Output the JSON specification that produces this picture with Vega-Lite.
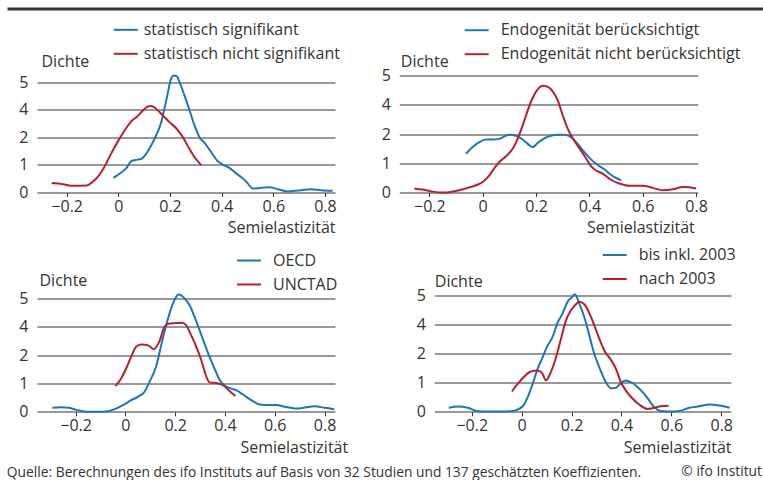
{
  "$schema": "https://vega.github.io/schema/vega-lite/v6.json",
  "autosize": {"type": "pad"},
  "padding": {"left": 6, "top": 8.5, "right": 0, "bottom": 0},
  "bounds": "flush",
  "spacing": 59,
  "title": {"text": "Quelle: Berechnungen des ifo Instituts auf Basis von 32 Studien und 137 geschätzten Koeffizienten.", "orient": "bottom", "anchor": "start", "frame": "bounds", "offset": -13, "dx": -12},
  "datasets": {
    "p1": [
      {"gruppe": "statistisch signifikant", "x": -0.019, "dichte": 0.53},
      {"gruppe": "statistisch signifikant", "x": 0.011, "dichte": 0.72},
      {"gruppe": "statistisch signifikant", "x": 0.030, "dichte": 0.87},
      {"gruppe": "statistisch signifikant", "x": 0.050, "dichte": 1.13},
      {"gruppe": "statistisch signifikant", "x": 0.075, "dichte": 1.19},
      {"gruppe": "statistisch signifikant", "x": 0.091, "dichte": 1.23},
      {"gruppe": "statistisch signifikant", "x": 0.108, "dichte": 1.41},
      {"gruppe": "statistisch signifikant", "x": 0.127, "dichte": 1.71},
      {"gruppe": "statistisch signifikant", "x": 0.146, "dichte": 2.14},
      {"gruppe": "statistisch signifikant", "x": 0.166, "dichte": 3.10},
      {"gruppe": "statistisch signifikant", "x": 0.179, "dichte": 4.07},
      {"gruppe": "statistisch signifikant", "x": 0.191, "dichte": 4.58},
      {"gruppe": "statistisch signifikant", "x": 0.204, "dichte": 5.12},
      {"gruppe": "statistisch signifikant", "x": 0.215, "dichte": 5.24},
      {"gruppe": "statistisch signifikant", "x": 0.226, "dichte": 5.22},
      {"gruppe": "statistisch signifikant", "x": 0.237, "dichte": 5.00},
      {"gruppe": "statistisch signifikant", "x": 0.256, "dichte": 4.52},
      {"gruppe": "statistisch signifikant", "x": 0.276, "dichte": 3.95},
      {"gruppe": "statistisch signifikant", "x": 0.295, "dichte": 2.87},
      {"gruppe": "statistisch signifikant", "x": 0.314, "dichte": 2.02},
      {"gruppe": "statistisch signifikant", "x": 0.333, "dichte": 1.81},
      {"gruppe": "statistisch signifikant", "x": 0.359, "dichte": 1.47},
      {"gruppe": "statistisch signifikant", "x": 0.385, "dichte": 1.13},
      {"gruppe": "statistisch signifikant", "x": 0.404, "dichte": 1.01},
      {"gruppe": "statistisch signifikant", "x": 0.430, "dichte": 0.89},
      {"gruppe": "statistisch signifikant", "x": 0.456, "dichte": 0.69},
      {"gruppe": "statistisch signifikant", "x": 0.482, "dichte": 0.51},
      {"gruppe": "statistisch signifikant", "x": 0.501, "dichte": 0.33},
      {"gruppe": "statistisch signifikant", "x": 0.521, "dichte": 0.14},
      {"gruppe": "statistisch signifikant", "x": 0.553, "dichte": 0.17},
      {"gruppe": "statistisch signifikant", "x": 0.585, "dichte": 0.19},
      {"gruppe": "statistisch signifikant", "x": 0.617, "dichte": 0.12},
      {"gruppe": "statistisch signifikant", "x": 0.656, "dichte": 0.04},
      {"gruppe": "statistisch signifikant", "x": 0.695, "dichte": 0.07},
      {"gruppe": "statistisch signifikant", "x": 0.746, "dichte": 0.12},
      {"gruppe": "statistisch signifikant", "x": 0.785, "dichte": 0.08},
      {"gruppe": "statistisch signifikant", "x": 0.830, "dichte": 0.06},
      {"gruppe": "statistisch nicht signifikant", "x": -0.258, "dichte": 0.34},
      {"gruppe": "statistisch nicht signifikant", "x": -0.215, "dichte": 0.30},
      {"gruppe": "statistisch nicht signifikant", "x": -0.176, "dichte": 0.24},
      {"gruppe": "statistisch nicht signifikant", "x": -0.124, "dichte": 0.25},
      {"gruppe": "statistisch nicht signifikant", "x": -0.099, "dichte": 0.39},
      {"gruppe": "statistisch nicht signifikant", "x": -0.079, "dichte": 0.57},
      {"gruppe": "statistisch nicht signifikant", "x": -0.056, "dichte": 0.89},
      {"gruppe": "statistisch nicht signifikant", "x": -0.028, "dichte": 1.41},
      {"gruppe": "statistisch nicht signifikant", "x": 0.004, "dichte": 1.95},
      {"gruppe": "statistisch nicht signifikant", "x": 0.030, "dichte": 2.67},
      {"gruppe": "statistisch nicht signifikant", "x": 0.050, "dichte": 3.16},
      {"gruppe": "statistisch nicht signifikant", "x": 0.073, "dichte": 3.52},
      {"gruppe": "statistisch nicht signifikant", "x": 0.095, "dichte": 3.95},
      {"gruppe": "statistisch nicht signifikant", "x": 0.114, "dichte": 4.12},
      {"gruppe": "statistisch nicht signifikant", "x": 0.127, "dichte": 4.14},
      {"gruppe": "statistisch nicht signifikant", "x": 0.146, "dichte": 4.04},
      {"gruppe": "statistisch nicht signifikant", "x": 0.172, "dichte": 3.59},
      {"gruppe": "statistisch nicht signifikant", "x": 0.198, "dichte": 3.11},
      {"gruppe": "statistisch nicht signifikant", "x": 0.224, "dichte": 2.67},
      {"gruppe": "statistisch nicht signifikant", "x": 0.250, "dichte": 2.02},
      {"gruppe": "statistisch nicht signifikant", "x": 0.275, "dichte": 1.59},
      {"gruppe": "statistisch nicht signifikant", "x": 0.299, "dichte": 1.23},
      {"gruppe": "statistisch nicht signifikant", "x": 0.321, "dichte": 0.99}
    ],
    "p2": [
      {"gruppe": "Endogenität berücksichtigt", "x": -0.0625, "dichte": 1.33},
      {"gruppe": "Endogenität berücksichtigt", "x": -0.0375, "dichte": 1.56},
      {"gruppe": "Endogenität berücksichtigt", "x": -0.0125, "dichte": 1.73},
      {"gruppe": "Endogenität berücksichtigt", "x": 0.0125, "dichte": 1.82},
      {"gruppe": "Endogenität berücksichtigt", "x": 0.0375, "dichte": 1.82},
      {"gruppe": "Endogenität berücksichtigt", "x": 0.0625, "dichte": 1.84},
      {"gruppe": "Endogenität berücksichtigt", "x": 0.081, "dichte": 1.92},
      {"gruppe": "Endogenität berücksichtigt", "x": 0.100, "dichte": 1.98},
      {"gruppe": "Endogenität berücksichtigt", "x": 0.125, "dichte": 1.95},
      {"gruppe": "Endogenität berücksichtigt", "x": 0.150, "dichte": 1.82},
      {"gruppe": "Endogenität berücksichtigt", "x": 0.169, "dichte": 1.67},
      {"gruppe": "Endogenität berücksichtigt", "x": 0.1875, "dichte": 1.56},
      {"gruppe": "Endogenität berücksichtigt", "x": 0.206, "dichte": 1.70},
      {"gruppe": "Endogenität berücksichtigt", "x": 0.231, "dichte": 1.86},
      {"gruppe": "Endogenität berücksichtigt", "x": 0.256, "dichte": 1.95},
      {"gruppe": "Endogenität berücksichtigt", "x": 0.281, "dichte": 1.98},
      {"gruppe": "Endogenität berücksichtigt", "x": 0.306, "dichte": 1.98},
      {"gruppe": "Endogenität berücksichtigt", "x": 0.331, "dichte": 1.90},
      {"gruppe": "Endogenität berücksichtigt", "x": 0.356, "dichte": 1.67},
      {"gruppe": "Endogenität berücksichtigt", "x": 0.381, "dichte": 1.39},
      {"gruppe": "Endogenität berücksichtigt", "x": 0.406, "dichte": 1.14},
      {"gruppe": "Endogenität berücksichtigt", "x": 0.431, "dichte": 0.95},
      {"gruppe": "Endogenität berücksichtigt", "x": 0.456, "dichte": 0.80},
      {"gruppe": "Endogenität berücksichtigt", "x": 0.481, "dichte": 0.61},
      {"gruppe": "Endogenität berücksichtigt", "x": 0.500, "dichte": 0.50},
      {"gruppe": "Endogenität berücksichtigt", "x": 0.519, "dichte": 0.42},
      {"gruppe": "Endogenität nicht berücksichtigt", "x": -0.256, "dichte": 0.14},
      {"gruppe": "Endogenität nicht berücksichtigt", "x": -0.225, "dichte": 0.10},
      {"gruppe": "Endogenität nicht berücksichtigt", "x": -0.1875, "dichte": 0.03},
      {"gruppe": "Endogenität nicht berücksichtigt", "x": -0.150, "dichte": 0.00},
      {"gruppe": "Endogenität nicht berücksichtigt", "x": -0.119, "dichte": 0.02},
      {"gruppe": "Endogenität nicht berücksichtigt", "x": -0.0875, "dichte": 0.08},
      {"gruppe": "Endogenität nicht berücksichtigt", "x": -0.056, "dichte": 0.16},
      {"gruppe": "Endogenität nicht berücksichtigt", "x": -0.025, "dichte": 0.25},
      {"gruppe": "Endogenität nicht berücksichtigt", "x": 0.000, "dichte": 0.36},
      {"gruppe": "Endogenität nicht berücksichtigt", "x": 0.025, "dichte": 0.59},
      {"gruppe": "Endogenität nicht berücksichtigt", "x": 0.044, "dichte": 0.84},
      {"gruppe": "Endogenität nicht berücksichtigt", "x": 0.0625, "dichte": 1.05},
      {"gruppe": "Endogenität nicht berücksichtigt", "x": 0.0875, "dichte": 1.25},
      {"gruppe": "Endogenität nicht berücksichtigt", "x": 0.1125, "dichte": 1.50},
      {"gruppe": "Endogenität nicht berücksichtigt", "x": 0.131, "dichte": 1.84},
      {"gruppe": "Endogenität nicht berücksichtigt", "x": 0.150, "dichte": 2.59},
      {"gruppe": "Endogenität nicht berücksichtigt", "x": 0.169, "dichte": 3.61},
      {"gruppe": "Endogenität nicht berücksichtigt", "x": 0.1875, "dichte": 4.23},
      {"gruppe": "Endogenität nicht berücksichtigt", "x": 0.206, "dichte": 4.52},
      {"gruppe": "Endogenität nicht berücksichtigt", "x": 0.225, "dichte": 4.64},
      {"gruppe": "Endogenität nicht berücksichtigt", "x": 0.244, "dichte": 4.60},
      {"gruppe": "Endogenität nicht berücksichtigt", "x": 0.2625, "dichte": 4.45},
      {"gruppe": "Endogenität nicht berücksichtigt", "x": 0.281, "dichte": 4.15},
      {"gruppe": "Endogenität nicht berücksichtigt", "x": 0.300, "dichte": 3.27},
      {"gruppe": "Endogenität nicht berücksichtigt", "x": 0.319, "dichte": 2.36},
      {"gruppe": "Endogenität nicht berücksichtigt", "x": 0.3375, "dichte": 1.86},
      {"gruppe": "Endogenität nicht berücksichtigt", "x": 0.356, "dichte": 1.61},
      {"gruppe": "Endogenität nicht berücksichtigt", "x": 0.381, "dichte": 1.27},
      {"gruppe": "Endogenität nicht berücksichtigt", "x": 0.406, "dichte": 0.91},
      {"gruppe": "Endogenität nicht berücksichtigt", "x": 0.425, "dichte": 0.76},
      {"gruppe": "Endogenität nicht berücksichtigt", "x": 0.450, "dichte": 0.65},
      {"gruppe": "Endogenität nicht berücksichtigt", "x": 0.481, "dichte": 0.44},
      {"gruppe": "Endogenität nicht berücksichtigt", "x": 0.5125, "dichte": 0.31},
      {"gruppe": "Endogenität nicht berücksichtigt", "x": 0.550, "dichte": 0.23},
      {"gruppe": "Endogenität nicht berücksichtigt", "x": 0.600, "dichte": 0.23},
      {"gruppe": "Endogenität nicht berücksichtigt", "x": 0.6375, "dichte": 0.16},
      {"gruppe": "Endogenität nicht berücksichtigt", "x": 0.675, "dichte": 0.08},
      {"gruppe": "Endogenität nicht berücksichtigt", "x": 0.7125, "dichte": 0.11},
      {"gruppe": "Endogenität nicht berücksichtigt", "x": 0.750, "dichte": 0.19},
      {"gruppe": "Endogenität nicht berücksichtigt", "x": 0.775, "dichte": 0.18},
      {"gruppe": "Endogenität nicht berücksichtigt", "x": 0.800, "dichte": 0.14}
    ],
    "p3": [
      {"gruppe": "OECD", "x": -0.293, "dichte": 0.14},
      {"gruppe": "OECD", "x": -0.259, "dichte": 0.16},
      {"gruppe": "OECD", "x": -0.226, "dichte": 0.14},
      {"gruppe": "OECD", "x": -0.192, "dichte": 0.06},
      {"gruppe": "OECD", "x": -0.152, "dichte": 0.00},
      {"gruppe": "OECD", "x": -0.111, "dichte": 0.00},
      {"gruppe": "OECD", "x": -0.071, "dichte": 0.02},
      {"gruppe": "OECD", "x": -0.031, "dichte": 0.14},
      {"gruppe": "OECD", "x": -0.004, "dichte": 0.26},
      {"gruppe": "OECD", "x": 0.023, "dichte": 0.41},
      {"gruppe": "OECD", "x": 0.050, "dichte": 0.53},
      {"gruppe": "OECD", "x": 0.077, "dichte": 0.71},
      {"gruppe": "OECD", "x": 0.097, "dichte": 1.06},
      {"gruppe": "OECD", "x": 0.123, "dichte": 1.59},
      {"gruppe": "OECD", "x": 0.144, "dichte": 2.71},
      {"gruppe": "OECD", "x": 0.164, "dichte": 4.06},
      {"gruppe": "OECD", "x": 0.184, "dichte": 4.65},
      {"gruppe": "OECD", "x": 0.200, "dichte": 5.00},
      {"gruppe": "OECD", "x": 0.215, "dichte": 5.14},
      {"gruppe": "OECD", "x": 0.238, "dichte": 5.00},
      {"gruppe": "OECD", "x": 0.258, "dichte": 4.76},
      {"gruppe": "OECD", "x": 0.278, "dichte": 4.35},
      {"gruppe": "OECD", "x": 0.298, "dichte": 3.76},
      {"gruppe": "OECD", "x": 0.318, "dichte": 2.82},
      {"gruppe": "OECD", "x": 0.338, "dichte": 1.94},
      {"gruppe": "OECD", "x": 0.358, "dichte": 1.53},
      {"gruppe": "OECD", "x": 0.379, "dichte": 1.12},
      {"gruppe": "OECD", "x": 0.399, "dichte": 0.92},
      {"gruppe": "OECD", "x": 0.426, "dichte": 0.82},
      {"gruppe": "OECD", "x": 0.446, "dichte": 0.76},
      {"gruppe": "OECD", "x": 0.472, "dichte": 0.61},
      {"gruppe": "OECD", "x": 0.506, "dichte": 0.41},
      {"gruppe": "OECD", "x": 0.540, "dichte": 0.26},
      {"gruppe": "OECD", "x": 0.573, "dichte": 0.24},
      {"gruppe": "OECD", "x": 0.607, "dichte": 0.24},
      {"gruppe": "OECD", "x": 0.640, "dichte": 0.18},
      {"gruppe": "OECD", "x": 0.681, "dichte": 0.12},
      {"gruppe": "OECD", "x": 0.714, "dichte": 0.14},
      {"gruppe": "OECD", "x": 0.761, "dichte": 0.20},
      {"gruppe": "OECD", "x": 0.801, "dichte": 0.14},
      {"gruppe": "OECD", "x": 0.839, "dichte": 0.09},
      {"gruppe": "UNCTAD", "x": -0.040, "dichte": 0.91},
      {"gruppe": "UNCTAD", "x": -0.017, "dichte": 1.18},
      {"gruppe": "UNCTAD", "x": 0.003, "dichte": 1.53},
      {"gruppe": "UNCTAD", "x": 0.023, "dichte": 1.94},
      {"gruppe": "UNCTAD", "x": 0.043, "dichte": 2.59},
      {"gruppe": "UNCTAD", "x": 0.063, "dichte": 2.75},
      {"gruppe": "UNCTAD", "x": 0.090, "dichte": 2.71},
      {"gruppe": "UNCTAD", "x": 0.114, "dichte": 2.42},
      {"gruppe": "UNCTAD", "x": 0.137, "dichte": 2.99},
      {"gruppe": "UNCTAD", "x": 0.157, "dichte": 4.00},
      {"gruppe": "UNCTAD", "x": 0.177, "dichte": 4.12},
      {"gruppe": "UNCTAD", "x": 0.204, "dichte": 4.13},
      {"gruppe": "UNCTAD", "x": 0.227, "dichte": 4.14},
      {"gruppe": "UNCTAD", "x": 0.244, "dichte": 4.06},
      {"gruppe": "UNCTAD", "x": 0.264, "dichte": 3.41},
      {"gruppe": "UNCTAD", "x": 0.285, "dichte": 2.59},
      {"gruppe": "UNCTAD", "x": 0.305, "dichte": 1.82},
      {"gruppe": "UNCTAD", "x": 0.325, "dichte": 1.24},
      {"gruppe": "UNCTAD", "x": 0.338, "dichte": 1.04},
      {"gruppe": "UNCTAD", "x": 0.365, "dichte": 1.02},
      {"gruppe": "UNCTAD", "x": 0.392, "dichte": 0.94},
      {"gruppe": "UNCTAD", "x": 0.419, "dichte": 0.73},
      {"gruppe": "UNCTAD", "x": 0.442, "dichte": 0.56}
    ],
    "p4": [
      {"gruppe": "bis inkl. 2003", "x": -0.292, "dichte": 0.13},
      {"gruppe": "bis inkl. 2003", "x": -0.256, "dichte": 0.17},
      {"gruppe": "bis inkl. 2003", "x": -0.216, "dichte": 0.13},
      {"gruppe": "bis inkl. 2003", "x": -0.176, "dichte": 0.01},
      {"gruppe": "bis inkl. 2003", "x": -0.130, "dichte": 0.00},
      {"gruppe": "bis inkl. 2003", "x": -0.076, "dichte": 0.00},
      {"gruppe": "bis inkl. 2003", "x": -0.029, "dichte": 0.03},
      {"gruppe": "bis inkl. 2003", "x": 0.004, "dichte": 0.18},
      {"gruppe": "bis inkl. 2003", "x": 0.024, "dichte": 0.49},
      {"gruppe": "bis inkl. 2003", "x": 0.044, "dichte": 0.95},
      {"gruppe": "bis inkl. 2003", "x": 0.064, "dichte": 1.47},
      {"gruppe": "bis inkl. 2003", "x": 0.084, "dichte": 1.87},
      {"gruppe": "bis inkl. 2003", "x": 0.100, "dichte": 2.40},
      {"gruppe": "bis inkl. 2003", "x": 0.124, "dichte": 3.13},
      {"gruppe": "bis inkl. 2003", "x": 0.144, "dichte": 4.05},
      {"gruppe": "bis inkl. 2003", "x": 0.164, "dichte": 4.37},
      {"gruppe": "bis inkl. 2003", "x": 0.184, "dichte": 4.77},
      {"gruppe": "bis inkl. 2003", "x": 0.200, "dichte": 4.92},
      {"gruppe": "bis inkl. 2003", "x": 0.214, "dichte": 5.03},
      {"gruppe": "bis inkl. 2003", "x": 0.231, "dichte": 4.71},
      {"gruppe": "bis inkl. 2003", "x": 0.251, "dichte": 4.25},
      {"gruppe": "bis inkl. 2003", "x": 0.271, "dichte": 3.24},
      {"gruppe": "bis inkl. 2003", "x": 0.291, "dichte": 1.99},
      {"gruppe": "bis inkl. 2003", "x": 0.311, "dichte": 1.53},
      {"gruppe": "bis inkl. 2003", "x": 0.338, "dichte": 1.01},
      {"gruppe": "bis inkl. 2003", "x": 0.358, "dichte": 0.80},
      {"gruppe": "bis inkl. 2003", "x": 0.378, "dichte": 0.82},
      {"gruppe": "bis inkl. 2003", "x": 0.398, "dichte": 0.98},
      {"gruppe": "bis inkl. 2003", "x": 0.418, "dichte": 1.07},
      {"gruppe": "bis inkl. 2003", "x": 0.438, "dichte": 1.01},
      {"gruppe": "bis inkl. 2003", "x": 0.465, "dichte": 0.84},
      {"gruppe": "bis inkl. 2003", "x": 0.491, "dichte": 0.61},
      {"gruppe": "bis inkl. 2003", "x": 0.511, "dichte": 0.38},
      {"gruppe": "bis inkl. 2003", "x": 0.531, "dichte": 0.15},
      {"gruppe": "bis inkl. 2003", "x": 0.558, "dichte": 0.02},
      {"gruppe": "bis inkl. 2003", "x": 0.605, "dichte": 0.00},
      {"gruppe": "bis inkl. 2003", "x": 0.638, "dichte": 0.03},
      {"gruppe": "bis inkl. 2003", "x": 0.672, "dichte": 0.13},
      {"gruppe": "bis inkl. 2003", "x": 0.705, "dichte": 0.17},
      {"gruppe": "bis inkl. 2003", "x": 0.752, "dichte": 0.24},
      {"gruppe": "bis inkl. 2003", "x": 0.792, "dichte": 0.21},
      {"gruppe": "bis inkl. 2003", "x": 0.834, "dichte": 0.13},
      {"gruppe": "nach 2003", "x": -0.039, "dichte": 0.69},
      {"gruppe": "nach 2003", "x": -0.016, "dichte": 0.95},
      {"gruppe": "nach 2003", "x": 0.011, "dichte": 1.21},
      {"gruppe": "nach 2003", "x": 0.037, "dichte": 1.38},
      {"gruppe": "nach 2003", "x": 0.064, "dichte": 1.41},
      {"gruppe": "nach 2003", "x": 0.084, "dichte": 1.30},
      {"gruppe": "nach 2003", "x": 0.097, "dichte": 1.07},
      {"gruppe": "nach 2003", "x": 0.117, "dichte": 1.36},
      {"gruppe": "nach 2003", "x": 0.138, "dichte": 1.87},
      {"gruppe": "nach 2003", "x": 0.158, "dichte": 3.02},
      {"gruppe": "nach 2003", "x": 0.178, "dichte": 4.14},
      {"gruppe": "nach 2003", "x": 0.198, "dichte": 4.48},
      {"gruppe": "nach 2003", "x": 0.218, "dichte": 4.69},
      {"gruppe": "nach 2003", "x": 0.231, "dichte": 4.77},
      {"gruppe": "nach 2003", "x": 0.251, "dichte": 4.69},
      {"gruppe": "nach 2003", "x": 0.271, "dichte": 4.39},
      {"gruppe": "nach 2003", "x": 0.291, "dichte": 3.93},
      {"gruppe": "nach 2003", "x": 0.311, "dichte": 3.02},
      {"gruppe": "nach 2003", "x": 0.331, "dichte": 2.21},
      {"gruppe": "nach 2003", "x": 0.358, "dichte": 1.78},
      {"gruppe": "nach 2003", "x": 0.378, "dichte": 1.47},
      {"gruppe": "nach 2003", "x": 0.398, "dichte": 1.01},
      {"gruppe": "nach 2003", "x": 0.418, "dichte": 0.72},
      {"gruppe": "nach 2003", "x": 0.445, "dichte": 0.44},
      {"gruppe": "nach 2003", "x": 0.471, "dichte": 0.24},
      {"gruppe": "nach 2003", "x": 0.505, "dichte": 0.09},
      {"gruppe": "nach 2003", "x": 0.531, "dichte": 0.13},
      {"gruppe": "nach 2003", "x": 0.558, "dichte": 0.18},
      {"gruppe": "nach 2003", "x": 0.589, "dichte": 0.20}
    ]
  },
  "vconcat": [
    {
      "width": 727,
      "height": 1,
      "data": {"values": []},
      "mark": {"type": "point", "opacity": 0},
      "encoding": {
        "x": {
          "field": "x",
          "type": "quantitative",
          "scale": {"domain": [0, 1], "range": [-30, 727]},
          "axis": {"orient": "top", "domain": true, "domainColor": "#333333", "domainWidth": 3, "ticks": false, "labels": false, "grid": false, "title": null}
        }
      }
    },
    {
      "width": 660.7,
      "height": 124,
      "resolve": {
        "scale": {"x": "independent", "y": "independent", "color": "independent"},
        "axis": {"x": "independent", "y": "independent"},
        "legend": {"color": "independent"}
      },
      "layer": [
        {
          "data": {"name": "p1"},
          "mark": {"type": "line", "interpolate": "monotone", "strokeWidth": 2},
          "encoding": {
            "x": {
              "field": "x", "type": "quantitative",
              "scale": {"domain": [-0.315, 0.839], "range": [0, 298], "nice": false, "zero": false},
              "axis": {"orient": "bottom", "values": [-0.2, 0, 0.2, 0.4, 0.6, 0.8], "title": "Semielastizität", "titleX": 298, "titleY": 35}
            },
            "y": {
              "field": "dichte", "type": "quantitative",
              "scale": {"domain": [0, 1, 2, 4, 5], "range": [124, 96.3, 69, 41.3, 13.7], "nice": false, "zero": false},
              "axis": {"orient": "left", "grid": true, "values": [0, 1, 2, 4, 5], "title": "Dichte", "titleX": 4, "titleY": -7}
            },
            "color": {
              "field": "gruppe", "type": "nominal",
              "scale": {"domain": ["statistisch signifikant", "statistisch nicht signifikant"], "range": ["#1b75bb", "#b51f2e"]},
              "legend": {"legendX": 75.7, "legendY": -51.7, "labelOffset": 5}
            }
          }
        },
        {
          "data": {"name": "p2"},
          "mark": {"type": "line", "interpolate": "monotone", "strokeWidth": 2},
          "encoding": {
            "x": {
              "field": "x", "type": "quantitative",
              "scale": {"domain": [-0.3125, 0.806], "range": [362.3, 660.7], "nice": false, "zero": false},
              "axis": {"orient": "bottom", "values": [-0.2, 0, 0.2, 0.4, 0.6, 0.8], "title": "Semielastizität", "titleX": 657.3, "titleY": 35}
            },
            "y": {
              "field": "dichte", "type": "quantitative",
              "scale": {"domain": [0, 1, 2, 4, 5], "range": [124, 95, 65.7, 36, 6.7], "nice": false, "zero": false},
              "axis": {"orient": "left", "grid": true, "offset": -362.3, "values": [0, 1, 2, 4, 5], "title": "Dichte", "titleX": 1, "titleY": -7}
            },
            "color": {
              "field": "gruppe", "type": "nominal",
              "scale": {"domain": ["Endogenität berücksichtigt", "Endogenität nicht berücksichtigt"], "range": ["#1b75bb", "#b51f2e"]},
              "legend": {"legendX": 426.7, "legendY": -51.3}
            }
          }
        }
      ]
    },
    {
      "width": 694,
      "height": 160.3,
      "title": {"text": "© ifo Institut", "orient": "bottom", "anchor": "end", "frame": "group", "dx": 31, "offset": 9},
      "resolve": {
        "scale": {"x": "independent", "y": "independent", "color": "independent"},
        "axis": {"x": "independent", "y": "independent"},
        "legend": {"color": "independent"}
      },
      "layer": [
        {
          "data": {"name": "p3"},
          "mark": {"type": "line", "interpolate": "monotone", "strokeWidth": 2},
          "encoding": {
            "x": {
              "field": "x", "type": "quantitative",
              "scale": {"domain": [-0.355, 0.842], "range": [0, 298], "nice": false, "zero": false},
              "axis": {"orient": "bottom", "values": [-0.2, 0, 0.2, 0.4, 0.6, 0.8], "title": "Semielastizität", "titleX": 310.7, "titleY": 36}
            },
            "y": {
              "field": "dichte", "type": "quantitative",
              "scale": {"domain": [0, 1, 2, 4, 5], "range": [160.3, 132, 103.7, 75.3, 47], "nice": false, "zero": false},
              "axis": {"orient": "left", "grid": true, "values": [0, 1, 2, 4, 5], "title": "Dichte", "titleX": 2, "titleY": 29.2}
            },
            "color": {
              "field": "gruppe", "type": "nominal",
              "scale": {"domain": ["OECD", "UNCTAD"], "range": ["#1b75bb", "#b51f2e"]},
              "legend": {"legendX": 199, "legendY": -4}
            }
          }
        },
        {
          "data": {"name": "p4"},
          "mark": {"type": "line", "interpolate": "monotone", "strokeWidth": 2},
          "encoding": {
            "x": {
              "field": "x", "type": "quantitative",
              "scale": {"domain": [-0.35, 0.839], "range": [397.3, 694], "nice": false, "zero": false},
              "axis": {"orient": "bottom", "values": [-0.2, 0, 0.2, 0.4, 0.6, 0.8], "title": "Semielastizität", "titleX": 694, "titleY": 36}
            },
            "y": {
              "field": "dichte", "type": "quantitative",
              "scale": {"domain": [0, 1, 2, 4, 5], "range": [160, 131, 102, 72.7, 43.7], "nice": false, "zero": false},
              "axis": {"orient": "left", "grid": true, "offset": -397.3, "values": [0, 1, 2, 4, 5], "title": "Dichte", "titleX": 0, "titleY": 30}
            },
            "color": {
              "field": "gruppe", "type": "nominal",
              "scale": {"domain": ["bis inkl. 2003", "nach 2003"], "range": ["#1b75bb", "#b51f2e"]},
              "legend": {"legendX": 564.7, "legendY": -9.5}
            }
          }
        }
      ]
    }
  ],
  "config": {
    "font": "Open Sans",
    "view": {"stroke": null},
    "axis": {
      "labelFont": "Open Sans", "titleFont": "Open Sans",
      "labelFontSize": 16, "titleFontSize": 16, "titleFontWeight": "normal",
      "labelColor": "#333333", "titleColor": "#333333",
      "labelFlush": false, "labelOverlap": false
    },
    "axisX": {
      "grid": false, "domain": false, "ticks": true, "tickSize": 4, "tickColor": "#333333", "tickWidth": 1,
      "labelPadding": 2, "format": "~g",
      "titleAlign": "right", "titleBaseline": "middle", "titleAnchor": null
    },
    "axisY": {
      "grid": true, "gridColor": "#333333", "gridWidth": 1, "domain": false, "ticks": false,
      "labelPadding": 9, "format": "d",
      "titleAngle": 0, "titleAlign": "left", "titleBaseline": "middle"
    },
    "legend": {
      "orient": "none", "title": null, "padding": 0,
      "symbolType": "stroke", "symbolSize": 576, "symbolStrokeWidth": 2,
      "labelFont": "Open Sans", "labelFontSize": 16, "labelColor": "#333333", "labelOffset": 11,
      "labelLimit": 500, "rowPadding": 3
    },
    "title": {
      "font": "Open Sans", "fontSize": 13.8, "fontWeight": "normal", "color": "#333333"
    }
  }
}
